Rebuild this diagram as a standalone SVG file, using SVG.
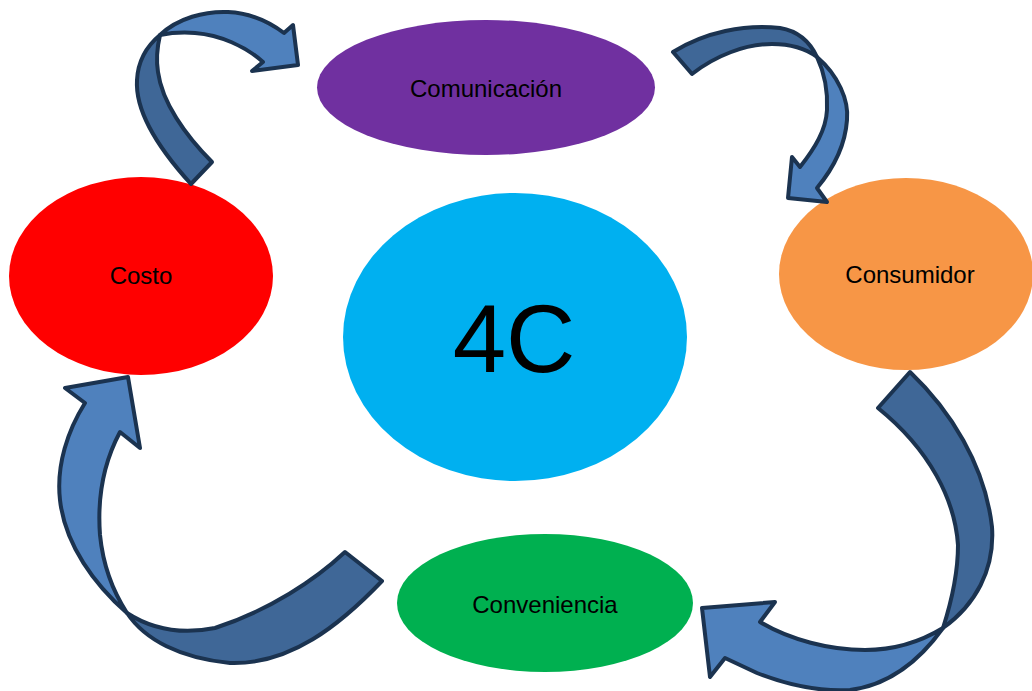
<svg xmlns="http://www.w3.org/2000/svg" width="1032" height="691" viewBox="0 0 1032 691">
  <style>
    .lbl { font-family: "Liberation Sans", Arial, sans-serif; font-size: 24px; fill: #000; text-anchor: middle; }
    .big { font-family: "Liberation Sans", Arial, sans-serif; font-size: 96px; fill: #000; text-anchor: middle; }
    .back { fill: #3F6797; stroke: #1B3350; stroke-width: 4; stroke-linejoin: round; }
    .front { fill: #4F81BD; stroke: #1B3350; stroke-width: 4; stroke-linejoin: round; }
  </style>
  <rect width="1032" height="691" fill="#FFFFFF"/>

  <g id="comunicacion">
    <ellipse cx="486" cy="87.5" rx="169" ry="67.5" fill="#7030A0"/>
    <text class="lbl" x="486" y="97">Comunicación</text>
  </g>
  <g id="costo">
    <ellipse cx="141" cy="276" rx="132" ry="99" fill="#FF0000"/>
    <text class="lbl" x="141" y="284">Costo</text>
  </g>
  <g id="centro-4c">
    <ellipse cx="515" cy="337" rx="172" ry="144" fill="#00B0F0"/>
    <text class="big" x="514" y="372">4C</text>
  </g>
  <g id="consumidor">
    <ellipse cx="906" cy="274" rx="127" ry="96" fill="#F79646"/>
    <text class="lbl" x="910" y="283">Consumidor</text>
  </g>
  <g id="conveniencia">
    <ellipse cx="545" cy="603" rx="148" ry="69" fill="#00B050"/>
    <text class="lbl" x="545" y="613">Conveniencia</text>
  </g>

  <!-- curved band arrows: a darker back half meeting a lighter front half with the head -->
  <g id="connectors">
    <g id="costo-a-comunicacion">
      <path class="back" d="M191,184 C160,150 135,112 137,80 C138,60 148,45 160,35 C157,48 156,60 158,72 C162,102 185,135 212,162 Z"/>
      <path class="front" d="M160,35 C178,18 205,11 228,12 C250,13 268,21 284,33 L293,25 L298,65 L252,71 L263,62 C245,46 220,35 195,33 C182,32 170,33 160,35 Z"/>
    </g>
    <g id="comunicacion-a-consumidor">
      <path class="back" d="M673,52 C705,32 745,24 780,28 C798,31 810,42 817,57 C805,48 790,44 772,44 C745,44 715,56 692,74 Z"/>
      <path class="front" d="M817,57 C838,75 849,100 847,120 C845,148 832,170 817,188 L827,202 L788,198 L792,157 L800,167 C815,148 826,130 827,110 C828,90 824,72 817,57 Z"/>
    </g>
    <g id="consumidor-a-conveniencia">
      <path class="back" d="M910,372 C950,410 985,465 992,527 C995,570 975,605 943,628 C952,600 958,570 958,545 C955,500 930,450 878,408 Z"/>
      <path class="front" d="M943,628 C920,660 890,685 850,690 C815,692 785,684 757,673 L725,658 L710,677 L702,608 L775,602 L760,622 C790,640 830,650 865,650 C895,650 920,642 943,628 Z"/>
    </g>
    <g id="conveniencia-a-costo">
      <path class="back" d="M345,552 C315,580 270,610 215,628 C180,635 150,628 127,613 C145,640 180,658 230,663 C290,665 340,625 382,581 Z"/>
      <path class="front" d="M127,613 C95,585 65,545 60,500 C56,465 68,430 85,403 L65,388 L128,377 L140,448 L120,432 C105,460 97,495 100,535 C103,565 112,590 127,613 Z"/>
    </g>
  </g>
</svg>
